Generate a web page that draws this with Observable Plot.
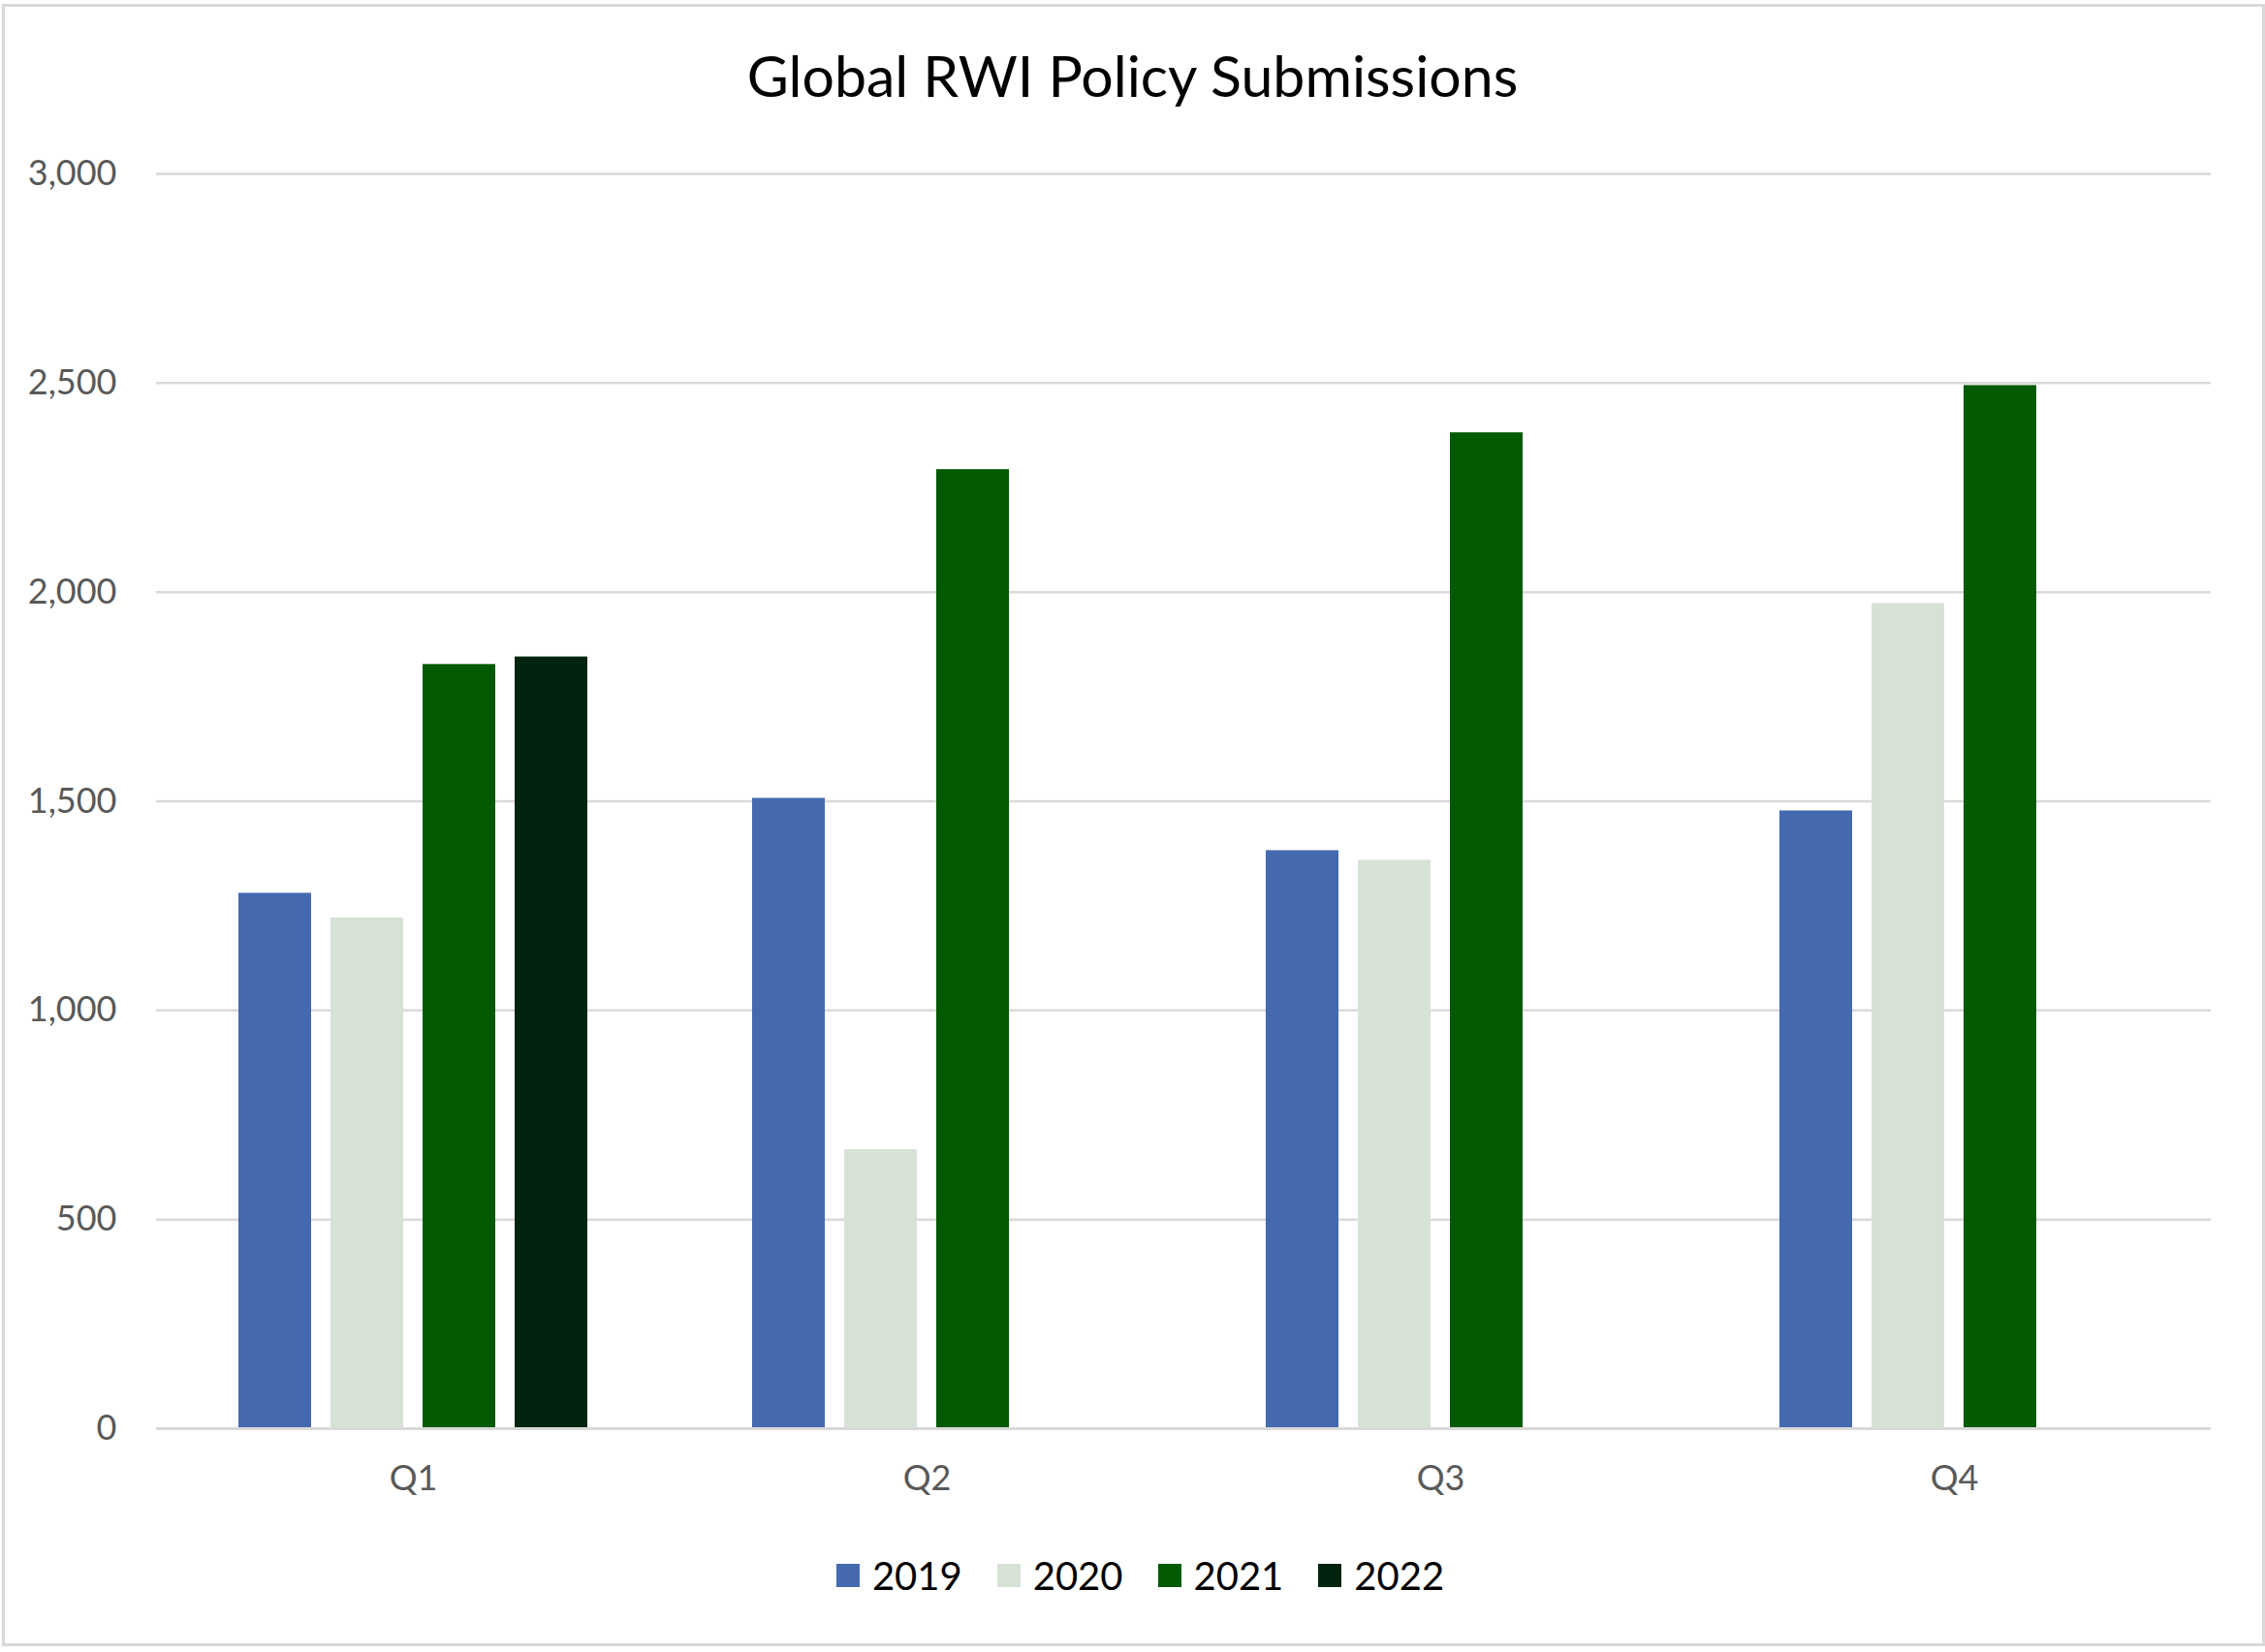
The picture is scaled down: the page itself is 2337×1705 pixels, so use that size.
<!DOCTYPE html>
<html>
<head>
<meta charset="utf-8">
<script src="https://cdn.jsdelivr.net/npm/d3@7"></script>
<script src="https://cdn.jsdelivr.net/npm/@observablehq/plot@0.6"></script>
<style>
  html, body { margin: 0; padding: 0; background: #fff; }
  #frame { position: relative; width: 2337px; height: 1705px; background: #fff; overflow: hidden; font-family: Lato, "Open Sans", sans-serif; }
  #border { position: absolute; left: 2px; top: 4px; width: 2329px; height: 1689px; border: 3px solid #d9d9d9; }
  #title { position: absolute; left: 0; top: 38px; width: 2337px; text-align: center; font-size: 59px; line-height: 80px; color: #000; }
  #chart { position: absolute; left: 0; top: 140px; }
  #legend { position: absolute; left: 8px; top: 1596px; width: 2337px; height: 60px; display: flex; justify-content: center; align-items: center; gap: 36px; font-size: 40px; color: #000; }
  .item { display: flex; align-items: center; gap: 13px; }
  .sw { width: 24px; height: 24px; display: inline-block; }
</style>
</head>
<body>
<div id="frame">
  <div id="border"></div>
  <div id="title">Global RWI Policy Submissions</div>
  <div id="chart"></div>
  <div id="legend"></div>
</div>
<script>
const quarters = ["Q1", "Q2", "Q3", "Q4"];
const years = ["2019", "2020", "2021", "2022"];
const v2019 = [1280, 1507, 1382, 1477];
const v2020 = [1221, 667, 1359, 1973];
const v2021 = [1827, 2293, 2381, 2494];
const v2022 = [1845, null, null, null];
const colors = ["#4469AE", "#D7E2D7", "#025A02", "#02240F"];
const yTicks = [0, 500, 1000, 1500, 2000, 2500, 3000];

const series = [v2019, v2020, v2021, v2022];
const data = [];
quarters.forEach((q, i) => {
  years.forEach((y, j) => {
    const v = series[j][i];
    if (v != null) data.push({quarter: q, year: y, value: v});
  });
});

const chart = Plot.plot({
  width: 2337,
  height: 1434,
  marginTop: 39,
  marginBottom: 100,
  marginLeft: 160,
  marginRight: 55,
  style: {fontFamily: "Lato, 'Open Sans', sans-serif", fontSize: "36px", color: "#595959", background: "transparent"},
  fx: {domain: quarters, padding: 0, label: null, axis: "bottom", tickSize: 0, tickPadding: 38},
  x: {domain: years, paddingInner: 0.214, paddingOuter: 0.87, axis: null},
  y: {domain: [0, 3000], ticks: yTicks, label: null, tickSize: 0, tickPadding: 41, tickFormat: d3.format(",")},
  color: {domain: years, range: colors},
  marks: [
    Plot.gridY(yTicks, {stroke: "#d9d9d9", strokeOpacity: 1, strokeWidth: 2.5}),
    Plot.barY(data, {fx: "quarter", x: "year", y: "value", fill: "year"}),
    Plot.ruleY([0], {stroke: "#d9d9d9", strokeWidth: 3})
  ]
});
document.getElementById("chart").appendChild(chart);

const legend = document.getElementById("legend");
years.forEach((y, j) => {
  const item = document.createElement("div");
  item.className = "item";
  const sw = document.createElement("span");
  sw.className = "sw";
  sw.style.background = colors[j];
  const t = document.createElement("span");
  t.textContent = y;
  item.appendChild(sw);
  item.appendChild(t);
  legend.appendChild(item);
});
</script>
</body>
</html>
